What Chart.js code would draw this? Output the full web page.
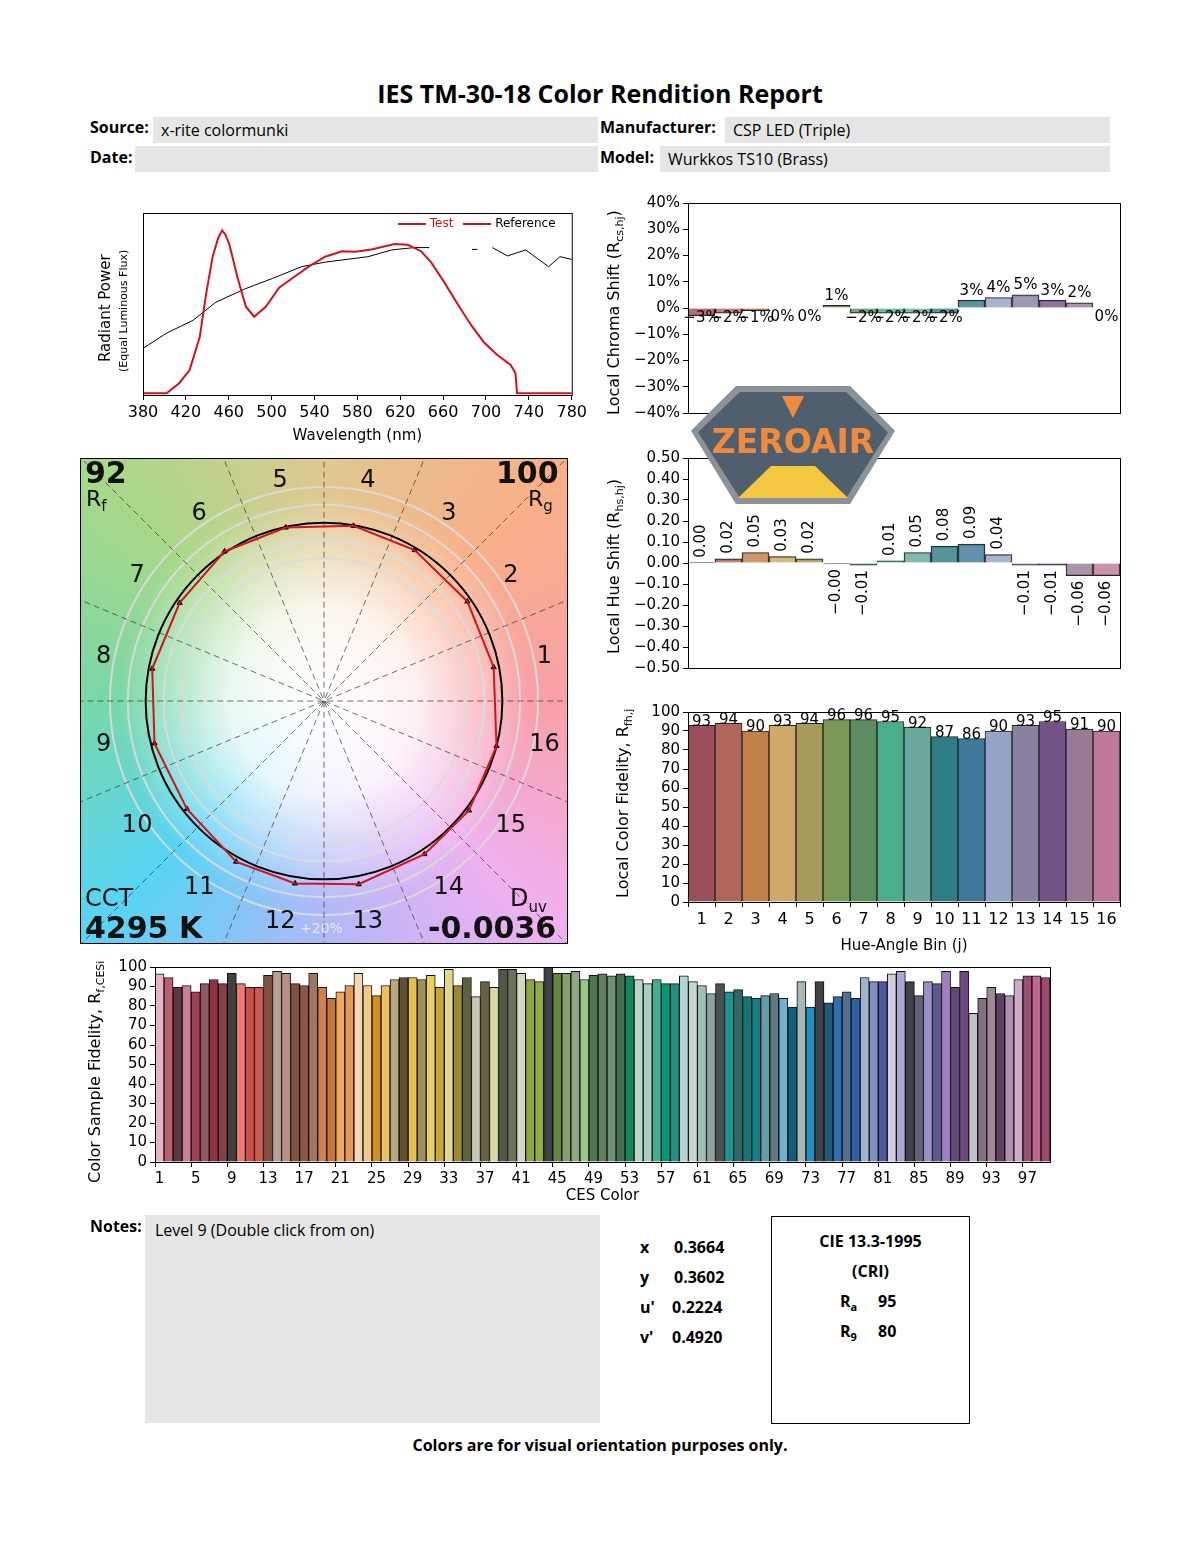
<!DOCTYPE html>
<html>
<head>
<meta charset="utf-8">
<script src="https://cdn.jsdelivr.net/npm/chart.js@4.4.1/dist/chart.umd.min.js"></script>
<style>
  body { margin: 0; background: #fff; font-family: "DejaVu Sans", sans-serif; }
  #page { position: relative; width: 1200px; height: 1550px; }
  .abs { position: absolute; }
  canvas { position: absolute; }
  .lbl { position: absolute; font-family: "Open Sans", sans-serif; font-weight: 700; font-size: 16px; }
  .field { position: absolute; background: #e6e6e6; font-family: "Open Sans", sans-serif; font-size: 16px; padding-left: 8px; box-sizing: border-box; line-height: 26px; }
  .rot { position: absolute; transform-origin: 0 0; transform: rotate(-90deg); white-space: nowrap; font-size: 16px; }
  .corner { position: absolute; color: #111; }
</style>
</head>
<body>
<div id="page">
  <div class="abs" style="left:0;width:1200px;top:76px;text-align:center;font-family:'Open Sans';font-weight:700;font-size:25px;">IES TM-30-18 Color Rendition Report</div>

  <div class="lbl" style="left:90px;top:116px;">Source:</div>
  <div class="field" style="left:153px;top:117px;width:445px;height:26px;">x-rite colormunki</div>
  <div class="lbl" style="left:90px;top:146px;">Date:</div>
  <div class="field" style="left:135px;top:146px;width:463px;height:26px;"></div>
  <div class="lbl" style="left:600px;top:116px;">Manufacturer:</div>
  <div class="field" style="left:725px;top:117px;width:385px;height:26px;">CSP LED (Triple)</div>
  <div class="lbl" style="left:600px;top:146px;">Model:</div>
  <div class="field" style="left:660px;top:146px;width:450px;height:26px;">Wurkkos TS10 (Brass)</div>

  <canvas id="spec" style="left:70px;top:205px;" width="520" height="240"></canvas>
  <div class="rot" style="left:96px;top:362px;font-size:15px;">Radiant Power</div>
  <div class="rot" style="left:117px;top:372px;font-size:11px;">(Equal Luminous Flux)</div>
  <div class="abs" style="left:398px;top:216px;font-size:12px;white-space:nowrap;">
    <span style="display:inline-block;width:28px;border-top:2px solid #d0141e;vertical-align:middle;"></span>
    <span style="color:#d0141e;">Test</span>
    <span style="display:inline-block;width:28px;border-top:2px solid #d0141e;vertical-align:middle;margin-left:6px;"></span>
    <span>Reference</span>
  </div>

  <canvas id="chroma" style="left:600px;top:190px;" width="535" height="235"></canvas>
  <div class="rot" style="left:604px;top:415px;">Local Chroma Shift (R<sub style="font-size:11px">cs,hj</sub>)</div>

  <canvas id="hue" style="left:600px;top:445px;" width="535" height="235"></canvas>
  <div class="rot" style="left:604px;top:654px;">Local Hue Shift (R<sub style="font-size:11px">hs,hj</sub>)</div>

  <canvas id="rfh" style="left:600px;top:700px;" width="535" height="255"></canvas>
  <div class="rot" style="left:613px;top:898px;">Local Color Fidelity, R<sub style="font-size:11px">fh,j</sub></div>

  <canvas id="vec" style="left:80px;top:458px;" width="488" height="486"></canvas>
  <div class="abs" style="left:80px;top:458px;width:486px;height:484px;border:1px solid #000;pointer-events:none;"></div>
  <div class="corner" style="left:85px;top:455px;font-size:30px;font-weight:700;">92</div>
  <div class="corner" style="left:86px;top:486px;font-size:22px;">R<sub style="font-size:15px">f</sub></div>
  <div class="corner" style="left:496px;top:455px;font-size:30px;font-weight:700;">100</div>
  <div class="corner" style="left:528px;top:486px;font-size:22px;">R<sub style="font-size:15px">g</sub></div>
  <div class="corner" style="left:85px;top:884px;font-size:24px;">CCT</div>
  <div class="corner" style="left:85px;top:910px;font-size:30px;font-weight:700;">4295 K</div>
  <div class="corner" style="left:510px;top:884px;font-size:24px;">D<sub style="font-size:15px">uv</sub></div>
  <div class="corner" style="left:428px;top:910px;font-size:30px;font-weight:700;">-0.0036</div>
  <div class="corner" style="left:300px;top:920px;font-size:14px;color:#e8e8ee;">+20%</div>

  <div class="abs" style="left:691px;top:386px;width:204px;height:118px;background:#8d9299;clip-path:polygon(22% 0,78% 0,100% 38%,78% 100%,22% 100%,0 38%);"></div>
  <div class="abs" style="left:698px;top:392px;width:190px;height:106px;background:#4f5f6e;clip-path:polygon(22% 0,78% 0,100% 38%,78% 100%,22% 100%,0 38%);"></div>
  <div class="abs" style="left:738px;top:466px;width:110px;height:32px;background:#f5c842;clip-path:polygon(30% 0,70% 0,100% 100%,0 100%);"></div>
  <div class="abs" style="left:782px;top:396px;width:22px;height:22px;background:#f08a3c;clip-path:polygon(0 0,100% 0,50% 100%);"></div>
  <div class="abs" style="left:698px;top:422px;width:190px;text-align:center;font-family:'DejaVu Sans';font-weight:700;font-size:33px;color:#f08a3c;">ZEROAIR</div>

  <canvas id="ces" style="left:80px;top:955px;" width="985" height="250"></canvas>
  <div class="rot" style="left:85px;top:1183px;">Color Sample Fidelity, R<sub style="font-size:11px">f,CESi</sub></div>

  <div class="lbl" style="left:90px;top:1215px;">Notes:</div>
  <div class="field" style="left:145px;top:1215px;width:455px;height:208px;padding-left:10px;line-height:30px;">Level 9 (Double click from on)</div>

  <div class="lbl" style="left:640px;top:1236px;">x</div><div class="lbl" style="left:674px;top:1236px;">0.3664</div>
  <div class="lbl" style="left:640px;top:1266px;">y</div><div class="lbl" style="left:674px;top:1266px;">0.3602</div>
  <div class="lbl" style="left:640px;top:1296px;">u'</div><div class="lbl" style="left:672px;top:1296px;">0.2224</div>
  <div class="lbl" style="left:640px;top:1326px;">v'</div><div class="lbl" style="left:672px;top:1326px;">0.4920</div>

  <div class="abs" style="left:771px;top:1216px;width:197px;height:206px;border:1px solid #000;"></div>
  <div class="lbl" style="left:771px;width:199px;text-align:center;top:1230px;">CIE 13.3-1995</div>
  <div class="lbl" style="left:771px;width:199px;text-align:center;top:1260px;">(CRI)</div>
  <div class="lbl" style="left:840px;top:1290px;">R<sub style="font-size:11px">a</sub></div><div class="lbl" style="left:878px;top:1290px;">95</div>
  <div class="lbl" style="left:840px;top:1320px;">R<sub style="font-size:11px">9</sub></div><div class="lbl" style="left:878px;top:1320px;">80</div>

  <div class="lbl" style="left:0;width:1200px;text-align:center;top:1434px;">Colors are for visual orientation purposes only.</div>
</div>

<script>
// ---- data ----
const testWl  = [380, 402, 414, 423.5, 433, 439, 445, 450, 453.8, 457, 460.5, 468, 476, 483.7, 494.5, 507, 519, 534.6, 550, 565.5, 578, 593, 615, 627, 639.5, 648.7, 661, 673.5, 686, 698, 710.6, 723, 727.5, 729, 780];
const testVal = [0.01, 0.01, 0.066, 0.137, 0.32, 0.56, 0.76, 0.86, 0.905, 0.88, 0.83, 0.65, 0.485, 0.43, 0.485, 0.59, 0.64, 0.705, 0.76, 0.79, 0.787, 0.80, 0.83, 0.825, 0.79, 0.73, 0.62, 0.50, 0.385, 0.29, 0.22, 0.165, 0.12, 0.01, 0.01];
const refWl   = [380, 402, 426.6, 448, 476, 500.6, 528, 550, 590, 612, 633, 647, 660, 687, 692, 699, 706, 720, 737, 758.4, 769, 780];
const refVal  = [0.256, 0.34, 0.41, 0.51, 0.585, 0.64, 0.705, 0.73, 0.76, 0.797, 0.81, 0.81, null, 0.80, 0.80, null, 0.81, 0.764, 0.797, 0.705, 0.76, 0.745];

const bins = ['1','2','3','4','5','6','7','8','9','10','11','12','13','14','15','16'];
const chromaShift = [-3, -2, -1, 0, 0, 1, -2, -2, -2, -2, 3, 4, 5, 3, 2, 0];
const hueShift = [0.001, 0.02, 0.05, 0.03, 0.02, -0.004, -0.01, 0.01, 0.05, 0.08, 0.09, 0.04, -0.01, -0.01, -0.06, -0.06];
const rfHue = [93, 94, 90, 93, 94, 96, 96, 95, 92, 87, 86, 90, 93, 95, 91, 90];
const binColors = ['#9e4e5a','#b06658','#c08048','#d0a868','#a89a5a','#7a9858','#5e8c62','#4aae8a','#6aa89c','#2d7d84','#3f7898','#94a4c8','#8a80a0','#745488','#9a7a94','#c07898'];

const cesValues = [96.5, 94.6, 89.6, 90.5, 87.3, 91.5, 93.6, 91.5, 96.7, 91.5, 89.6, 89.6, 95.7, 97.8, 96.7, 91.5, 90.5, 96.7, 89.6, 83.9,
  87.3, 90.5, 96.7, 90.5, 85.3, 90.5, 93.6, 94.6, 94.6, 93.6, 95.7, 89.6, 98.8, 90.5, 94.6, 84.8, 92.5, 89.6, 98.8, 98.8,
  96.7, 93.6, 92.5, 99.8, 96.7, 96.7, 97.8, 93.6, 95.7, 96.5, 95.5, 96.5, 95.5, 93.6, 91.5, 93.6, 91.5, 91.5, 95.5,
  92.5, 90.5, 86.4, 91.5, 87.3, 88.4, 84.8, 83.9, 85.3, 86.4, 83.9, 79.5, 92.5, 79.5, 92.5, 81.6, 84.8, 87.3, 83.9, 94.6,
  92.5, 92.5, 96.5, 97.8, 92.5, 85.3, 92.5, 91.5, 97.8, 89.6, 97.8, 76.2, 83.9, 89.6, 86.4, 85.3, 93.6, 95.5, 95.5, 94.6];
const cesLabels = cesValues.map((v, i) => String(i + 1));
const cesColors = ['#e8b4c4','#b86070','#5a3a40','#c88090','#a04058','#905860','#903040','#884048','#404040','#f07870',
  '#c85048','#d05850','#805040','#b8a098','#b89080','#805040','#8a5a40','#a07860','#d08050','#c87830',
  '#f0a860','#e89850','#f0d8b8','#f0c888','#d09020','#f0c060','#b8a880','#605030','#e8c050','#a09060',
  '#e8d060','#c8a830','#e0d890','#a08830','#606040','#c8c8b8','#686040','#d8d8a0','#505848','#687058',
  '#d0d8c0','#90a840','#90b040','#404048','#608840','#88a070','#90a880','#98c888','#507850','#608060',
  '#709078','#407050','#108858','#b8d8c8','#a8d0c0','#40b090','#009878','#209080','#b0d8d0','#c8d8d0',
  '#a0c0b8','#90a0a0','#485050','#189890','#306868','#107878','#108088','#60a0a8','#607880','#70b0d0',
  '#106078','#a8b8b8','#2090c0','#404448','#205878','#3070b0','#507090','#3060a8','#a0b0d0','#8090c0',
  '#5058a0','#d0d0e0','#a8a8d0','#404048','#606078','#9890c8','#605890','#a080c0','#604878','#704880',
  '#c0c0c8','#807080','#a08898','#604060','#b090b0','#d0a8c8','#985070','#c06890','#a04870'];

// ---- shared ----
Chart.defaults.font.family = '"DejaVu Sans", sans-serif';
Chart.defaults.font.size = 15;
Chart.defaults.color = '#000';
Chart.defaults.animation = false;
Chart.defaults.plugins.legend.display = false;
Chart.defaults.plugins.tooltip.enabled = false;

const frame = {
  id: 'frame',
  afterDraw(chart) {
    if (chart.canvas.id === 'vec') return;
    const a = chart.chartArea, c = chart.ctx;
    c.save(); c.strokeStyle = '#000'; c.lineWidth = 1;
    c.strokeRect(a.left + 0.5, a.top + 0.5, a.right - a.left, a.bottom - a.top);
    c.restore();
  }
};
Chart.register(frame);

const fixW = w => ({ afterFit(s) { s.width = w; } });
const fixH = h => ({ afterFit(s) { s.height = h; } });
const tickGrid = { drawOnChartArea: false, tickLength: 5, color: '#000' };
const minus = s => String(s).replace('-', '\u2212');

// ---- spectrum ----
new Chart(document.getElementById('spec'), {
  type: 'scatter',
  data: {
    datasets: [
      { data: testWl.map((x, i) => ({ x, y: testVal[i] })), showLine: true, borderColor: '#d0141e', borderWidth: 2, pointRadius: 0 },
      { data: refWl.map((x, i) => ({ x, y: refVal[i] })), showLine: true, borderColor: '#000', borderWidth: 1, pointRadius: 0, spanGaps: false }
    ]
  },
  options: {
    responsive: false,
    layout: { padding: { top: 8, right: 15 } },
    scales: {
      x: { type: 'linear', min: 380, max: 780, ticks: { stepSize: 40, font: { size: 16 } }, grid: tickGrid, border: { color: '#000' },
           title: { display: true, text: 'Wavelength (nm)', font: { size: 15 }, padding: 0 }, ...fixH(50) },
      y: { min: 0, max: 1, ticks: { display: false }, grid: { display: false }, border: { color: '#000' }, ...fixW(73) }
    }
  }
});

// ---- label plugins ----
const chromaLabels = {
  id: 'chromaLabels',
  afterDatasetsDraw(chart) {
    const c = chart.ctx, meta = chart.getDatasetMeta(0);
    c.save(); c.font = '15px "DejaVu Sans"'; c.fillStyle = '#000'; c.textAlign = 'center';
    meta.data.forEach((bar, i) => {
      const v = chromaShift[i];
      if (v > 0) { c.textBaseline = 'bottom'; c.fillText(v + '%', bar.x, bar.y - 2); }
      else { c.textBaseline = 'top'; c.fillText(minus(v) + '%', bar.x, bar.base + 2); }
    });
    c.restore();
  }
};
const hueLabels = {
  id: 'hueLabels',
  afterDatasetsDraw(chart) {
    const c = chart.ctx, meta = chart.getDatasetMeta(0);
    c.save(); c.font = '15px "DejaVu Sans"'; c.fillStyle = '#000'; c.textBaseline = 'middle';
    meta.data.forEach((bar, i) => {
      const v = hueShift[i];
      c.save();
      if (v > 0) { c.translate(bar.x, bar.y - 5); c.rotate(-Math.PI / 2); c.textAlign = 'left'; }
      else { c.translate(bar.x, bar.y + 5); c.rotate(-Math.PI / 2); c.textAlign = 'right'; }
      c.fillText(minus(v.toFixed(2)), 0, 0);
      c.restore();
    });
    c.restore();
  }
};
const rfLabels = {
  id: 'rfLabels',
  afterDatasetsDraw(chart) {
    const c = chart.ctx, meta = chart.getDatasetMeta(0);
    c.save(); c.font = '15px "DejaVu Sans"'; c.fillStyle = '#000'; c.textAlign = 'center'; c.textBaseline = 'bottom';
    meta.data.forEach((bar, i) => c.fillText(rfHue[i], bar.x, bar.y + 4));
    c.restore();
  }
};

function binChart(id, values, yOpts, plugin, showX, xh) {
  return new Chart(document.getElementById(id), {
    type: 'bar',
    data: { labels: bins, datasets: [{ data: values, backgroundColor: binColors.map(c => showX ? c : c + 'd0'), borderColor: '#222', borderWidth: 1, barPercentage: 1, categoryPercentage: 1 }] },
    options: {
      responsive: false,
      layout: { padding: { top: showX ? 10 : 13, right: 15, bottom: showX ? 0 : 10 } },
      scales: {
        x: showX
          ? { ticks: { font: { size: 16 } }, grid: tickGrid, border: { color: '#000' }, title: { display: true, text: 'Hue-Angle Bin (j)', font: { size: 15 }, padding: 0 }, ...fixH(xh) }
          : { display: false },
        y: Object.assign({ grid: tickGrid, border: { color: '#000' }, ...fixW(88) }, yOpts)
      }
    },
    plugins: [plugin]
  });
}
binChart('chroma', chromaShift, { min: -40, max: 40, ticks: { stepSize: 10, autoSkip: false, font: { size: 15 }, callback: v => minus(v) + '%' } }, chromaLabels, false);
binChart('hue', hueShift, { min: -0.5, max: 0.5, ticks: { stepSize: 0.1, autoSkip: false, font: { size: 15 }, callback: v => minus((Math.round(v * 100) / 100).toFixed(2)) } }, hueLabels, false);
binChart('rfh', rfHue, { min: 0, max: 100, ticks: { stepSize: 10, autoSkip: false, font: { size: 15 } } }, rfLabels, true, 53);

// ---- vector graphic ----
const R = 1.34;
const testPts = bins.map((b, i) => {
  const a = (i + 0.5) * Math.PI / 8 + hueShift[i];
  const r = 1 + chromaShift[i] / 100;
  return { x: r * Math.cos(a), y: r * Math.sin(a) };
});
const vecBg = {
  id: 'vecBg',
  beforeDatasetsDraw(chart) {
    const c = chart.ctx, xs = chart.scales.x, ys = chart.scales.y;
    const cx = xs.getPixelForValue(0), cy = ys.getPixelForValue(0);
    const u = xs.getPixelForValue(1) - cx;
    c.save();
    const g = c.createConicGradient(0, cx, cy);
    [[0, '#f8a0a8'], [0.125, '#f0b0f0'], [0.25, '#b0b8f8'], [0.375, '#58d4f4'], [0.5, '#78d8a8'],
     [0.625, '#a8d888'], [0.75, '#e0c890'], [0.875, '#f8b088'], [1, '#f8a0a8']].forEach(s => g.addColorStop(s[0], s[1]));
    c.fillStyle = g; c.fillRect(0, 0, chart.width, chart.height);
    const w = c.createRadialGradient(cx, cy, 0, cx, cy, u * 1.15);
    w.addColorStop(0, 'rgba(255,255,255,1)'); w.addColorStop(0.45, 'rgba(255,255,255,0.85)'); w.addColorStop(1, 'rgba(255,255,255,0)');
    c.fillStyle = w; c.fillRect(0, 0, chart.width, chart.height);
    c.strokeStyle = 'rgba(220,220,220,0.9)'; c.lineWidth = 2;
    [0.8, 0.9, 1.1, 1.2].forEach(r => { c.beginPath(); c.arc(cx, cy, r * u, 0, Math.PI * 2); c.stroke(); });
    c.strokeStyle = '#333'; c.lineWidth = 0.7; c.setLineDash([6, 4]);
    for (let k = 0; k < 8; k++) {
      const a = k * Math.PI / 8, L = u * 2;
      c.beginPath(); c.moveTo(cx - L * Math.cos(a), cy + L * Math.sin(a)); c.lineTo(cx + L * Math.cos(a), cy - L * Math.sin(a)); c.stroke();
    }
    c.setLineDash([]);
    c.strokeStyle = '#000'; c.lineWidth = 2;
    c.beginPath(); c.arc(cx, cy, u, 0, Math.PI * 2); c.stroke();
    c.fillStyle = '#111'; c.font = '24px "DejaVu Sans"'; c.textAlign = 'center'; c.textBaseline = 'middle';
    bins.forEach((b, i) => {
      const a = (i + 0.5) * Math.PI / 8;
      c.fillText(b, cx + 1.26 * u * Math.cos(a), cy - 1.26 * u * Math.sin(a));
    });
    c.restore();
  }
};
new Chart(document.getElementById('vec'), {
  type: 'scatter',
  data: {
    datasets: [
      { data: testPts.concat([testPts[0]]), showLine: true, borderColor: '#d0141e', borderWidth: 2, pointRadius: 0 },
      { data: testPts, pointRadius: 3, pointStyle: 'triangle', backgroundColor: '#000', borderColor: '#000' }
    ]
  },
  options: {
    responsive: false,
    layout: { padding: 0 },
    scales: { x: { display: false, min: -R, max: R }, y: { display: false, min: -R, max: R } }
  },
  plugins: [vecBg]
});

// ---- CES ----
new Chart(document.getElementById('ces'), {
  type: 'bar',
  data: { labels: cesLabels, datasets: [{ data: cesValues, backgroundColor: cesColors, borderColor: '#111', borderWidth: 1, barPercentage: 1, categoryPercentage: 1 }] },
  options: {
    responsive: false,
    layout: { padding: { top: 10, right: 15 } },
    scales: {
      x: { ticks: { autoSkip: false, maxRotation: 0, font: { size: 15 }, callback: (v, i) => i % 4 === 0 ? cesLabels[i] : '' },
           grid: { drawOnChartArea: false, tickLength: 5, color: (ctx) => ctx.index % 4 === 0 ? '#000' : 'rgba(0,0,0,0)' },
           border: { color: '#000' }, title: { display: true, text: 'CES Color', font: { size: 15 }, padding: 0 }, ...fixH(43) },
      y: { min: 0, max: 100, ticks: { stepSize: 10, autoSkip: false, font: { size: 15 } }, grid: tickGrid, border: { color: '#000' }, ...fixW(75) }
    }
  }
});
</script>
</body>
</html>
